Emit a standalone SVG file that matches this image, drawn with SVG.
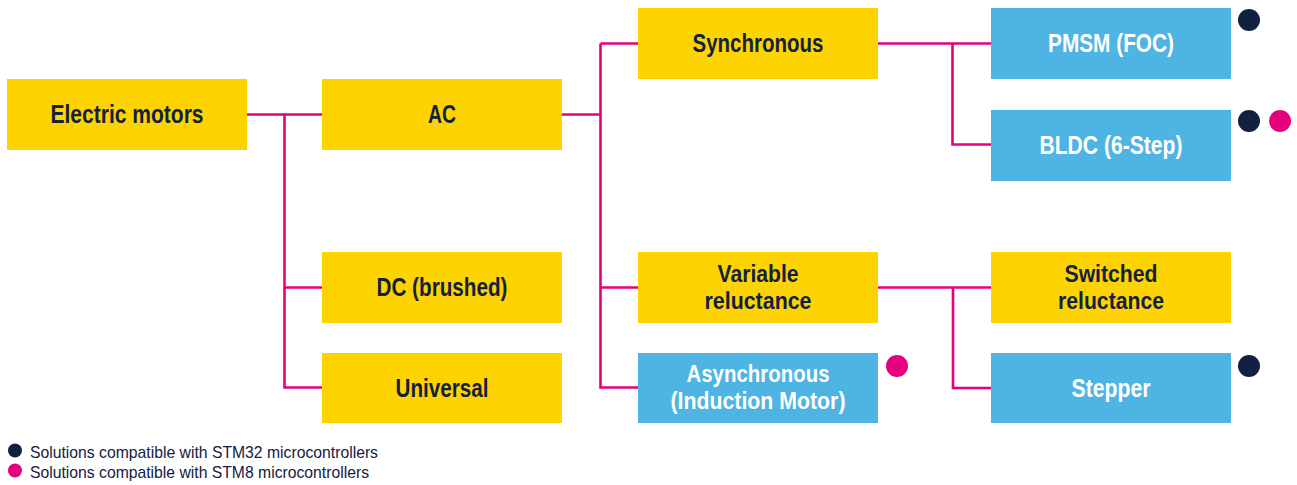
<svg xmlns="http://www.w3.org/2000/svg" width="1297" height="485" viewBox="0 0 1297 485">
<style>
.y{fill:#FDD300}
.b{fill:#4DB4E3}
.t{font-family:"Liberation Sans",Arial,sans-serif;font-size:26px;font-weight:bold;text-anchor:middle}
.t2{font-size:24px}
.ty{fill:#13213F}
.tb{fill:#FFFFFF}
.c{fill:none;stroke:#E6007E;stroke-width:2.6}
.n{fill:#12213F}
.m{fill:#E6007E}
.lg{font-family:"Liberation Sans",Arial,sans-serif;font-size:17px;fill:#13213F}
</style>
<rect width="1297" height="485" fill="#FFFFFF"/>
<g id="connectors">
<path class="c" d="M247 114.5H322M284.5 114.5V387.5H322M284.5 287.5H322"/>
<path class="c" d="M562 114.5H600.5M600.5 43.5V387.5H638M600.5 43.5H638M600.5 287.5H638"/>
<path class="c" d="M878 43.5H991M952.5 43.5V144.5H991"/>
<path class="c" d="M878 287.5H991M953 287.5V388H991"/>
</g>
<g id="electric-motors"><rect class="y" x="7" y="79" width="240" height="71"/><text class="t ty" x="127" y="123.3" textLength="153" lengthAdjust="spacingAndGlyphs">Electric motors</text></g>
<g id="ac"><rect class="y" x="322" y="79" width="240" height="71"/><text class="t ty" x="442" y="123.3" textLength="28" lengthAdjust="spacingAndGlyphs">AC</text></g>
<g id="dc"><rect class="y" x="322" y="252" width="240" height="71"/><text class="t ty" x="442" y="296.3" textLength="131" lengthAdjust="spacingAndGlyphs">DC (brushed)</text></g>
<g id="universal"><rect class="y" x="322" y="353" width="240" height="70"/><text class="t ty" x="442" y="396.5" textLength="93" lengthAdjust="spacingAndGlyphs">Universal</text></g>
<g id="synchronous"><rect class="y" x="638" y="8" width="240" height="71"/><text class="t ty" x="758" y="52.3" textLength="131" lengthAdjust="spacingAndGlyphs">Synchronous</text></g>
<g id="variable-reluctance"><rect class="y" x="638" y="252" width="240" height="71"/><text class="t t2 ty" x="758" y="281.5" textLength="81" lengthAdjust="spacingAndGlyphs">Variable</text><text class="t t2 ty" x="758" y="308.5" textLength="107" lengthAdjust="spacingAndGlyphs">reluctance</text></g>
<g id="asynchronous"><rect class="b" x="638" y="353" width="240" height="70"/><text class="t t2 tb" x="758" y="381.5" textLength="143" lengthAdjust="spacingAndGlyphs">Asynchronous</text><text class="t t2 tb" x="758" y="408.5" textLength="175" lengthAdjust="spacingAndGlyphs">(Induction Motor)</text><circle class="m" cx="897" cy="366" r="11"/></g>
<g id="pmsm"><rect class="b" x="991" y="8" width="240" height="71"/><text class="t tb" x="1111" y="52.3" textLength="126" lengthAdjust="spacingAndGlyphs">PMSM (FOC)</text><circle class="n" cx="1249" cy="20" r="11"/></g>
<g id="bldc"><rect class="b" x="991" y="110" width="240" height="71"/><text class="t tb" x="1111" y="154.3" textLength="143" lengthAdjust="spacingAndGlyphs">BLDC (6-Step)</text><circle class="n" cx="1249" cy="121" r="11"/><circle class="m" cx="1280" cy="121" r="11"/></g>
<g id="switched-reluctance"><rect class="y" x="991" y="252" width="240" height="71"/><text class="t t2 ty" x="1111" y="281.5" textLength="93" lengthAdjust="spacingAndGlyphs">Switched</text><text class="t t2 ty" x="1111" y="308.5" textLength="106" lengthAdjust="spacingAndGlyphs">reluctance</text></g>
<g id="stepper"><rect class="b" x="991" y="353" width="240" height="70"/><text class="t tb" x="1111" y="396.5" textLength="79" lengthAdjust="spacingAndGlyphs">Stepper</text><circle class="n" cx="1249" cy="366" r="11"/></g>
<g id="legend">
<circle class="n" cx="15" cy="450.5" r="7"/><text class="lg" x="30" y="457.5" textLength="348" lengthAdjust="spacingAndGlyphs">Solutions compatible with STM32 microcontrollers</text>
<circle class="m" cx="15" cy="470.5" r="7"/><text class="lg" x="30" y="477.5" textLength="339" lengthAdjust="spacingAndGlyphs">Solutions compatible with STM8 microcontrollers</text>
</g>
</svg>
